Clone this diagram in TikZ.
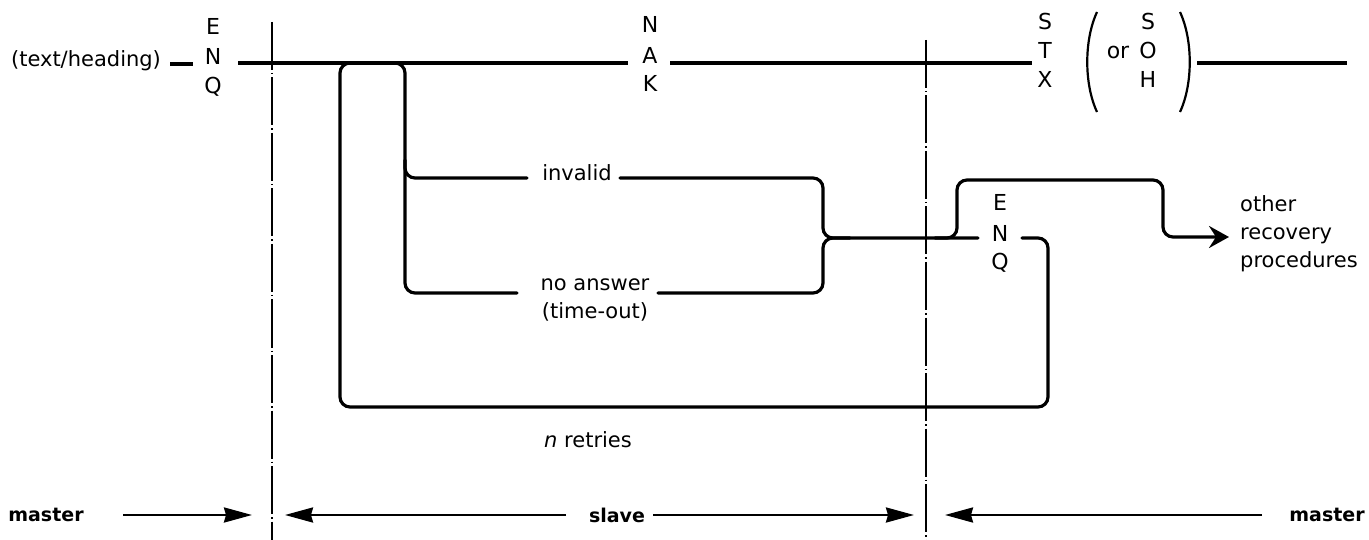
\documentclass[tikz,border=0pt]{standalone}
\usepackage{fontspec}
\setmainfont{DejaVu Sans}
\usetikzlibrary{arrows.meta}
\begin{document}
\begin{tikzpicture}[x=1pt,y=-1pt,
  lbl/.style={inner sep=0pt, font=\fontsize{21}{28}\selectfont},
  ltr/.style={inner sep=0pt, anchor=base, font=\fontsize{22}{28}\selectfont},
  boldlbl/.style={inner sep=0pt, font=\fontsize{19}{24}\selectfont\bfseries},
  mainline/.style={line width=3.2pt},
  wire/.style={line width=3.2pt, rounded corners=10pt, line cap=round},
  sepline/.style={line width=1.3pt, dash pattern=on 48pt off 3pt on 1.5pt off 3pt},
  dirarrow/.style={line width=2.4pt, -{Stealth[length=28pt,width=15pt,inset=2pt]}},
  paren/.style={line width=2.2pt},
]
\useasboundingbox (0,0) rectangle (1369,540);

% texts on the main line
\node[lbl] (th) at (86,61) {(text/heading)};
\node[ltr] (e1E) at (213,35) {E};
\node[ltr] (e1N) at (213,65) {N};
\node[ltr] (e1Q) at (213,94) {Q};
\node[ltr] (nakN) at (650,33) {N};
\node[ltr] (nakA) at (650,64) {A};
\node[ltr] (nakK) at (650,92) {K};
\node[ltr] (stxS) at (1045,30) {S};
\node[ltr] (stxT) at (1045,59) {T};
\node[ltr] (stxX) at (1045,88) {X};
\node[ltr] (or) at (1118,59) {or};
\node[ltr] (sohS) at (1148,30) {S};
\node[ltr] (sohO) at (1148,59) {O};
\node[ltr] (sohH) at (1148,88) {H};

% branch labels
\node[lbl] (inv) at (577,173) {invalid};
\node[lbl, align=center] (noans) at (595,300) {no answer\\(time-out)};
\node[ltr] (e2E) at (1000,211) {E};
\node[ltr] (e2N) at (1000,242) {N};
\node[ltr] (e2Q) at (1000,270) {Q};
\node[lbl, align=left, anchor=west] (orp) at (1240,234) {other\\recovery\\procedures};
\node[lbl] (nret) at (588,440) {\textit{n} retries};

% bottom row
\node[boldlbl] (m1) at (46,515) {master};
\node[boldlbl] (sl) at (617,515) {slave};
\node[boldlbl] (m2) at (1327,515) {master};

% coordinates
\coordinate (d1) at (170,64);
\coordinate (d2) at (193,64);
\coordinate (a1) at (238,63);
\coordinate (a2) at (628,63);
\coordinate (b1) at (670,63);
\coordinate (b2) at (1032,63);
\coordinate (c1) at (1197,63);
\coordinate (c2) at (1347,63);

\coordinate (vl1) at (272,22);
\coordinate (vl2) at (272,540);
\coordinate (vr1) at (926,40);
\coordinate (vr2) at (926,540);

% main line
\draw[mainline] (d1) -- (d2);
\draw[mainline] (a1) -- (a2);
\draw[mainline] (b1) -- (b2);
\draw[mainline] (c1) -- (c2);

% parentheses
\coordinate (lpt) at (1097,12);
\coordinate (lpb) at (1097,112);
\coordinate (rpt) at (1180,12);
\coordinate (rpb) at (1180,112);
\draw[paren] (lpt) .. controls (1084,40) and (1084,84) .. (lpb);
\draw[paren] (rpt) .. controls (1193,40) and (1193,84) .. (rpb);

% separators
\draw[sepline] (vl1) -- (vl2);
\draw[sepline] (vr1) -- (vr2);

% retry loop (outer)
\draw[wire] (354,63) -- (340,63) -- (340,407) -- (1048,407) -- (1048,238) -- (1022,238);
% inner branches
\draw[wire] (390,63) -- (405,63) -- (405,293) -- (517,293);
\draw[wire] (405,160) -- (405,178) -- (527,178);
% brace
\draw[wire] (620,178) -- (823,178) -- (823,238) -- (978,238);
\draw[wire] (658,293) -- (823,293) -- (823,238) -- (850,238);
% recovery path
\draw[wire, -{Stealth[length=20pt,width=22pt,inset=7pt]}] (935,238) -- (957,238) -- (957,180) -- (1163,180) -- (1163,237) -- (1229,237);

% bottom arrows
\draw[dirarrow] (123,515) -- (252,515);
\draw[dirarrow] (566,515) -- (285,515);
\draw[dirarrow] (653,515) -- (914,515);
\draw[dirarrow] (1262,515) -- (945,515);
\end{tikzpicture}
\end{document}
